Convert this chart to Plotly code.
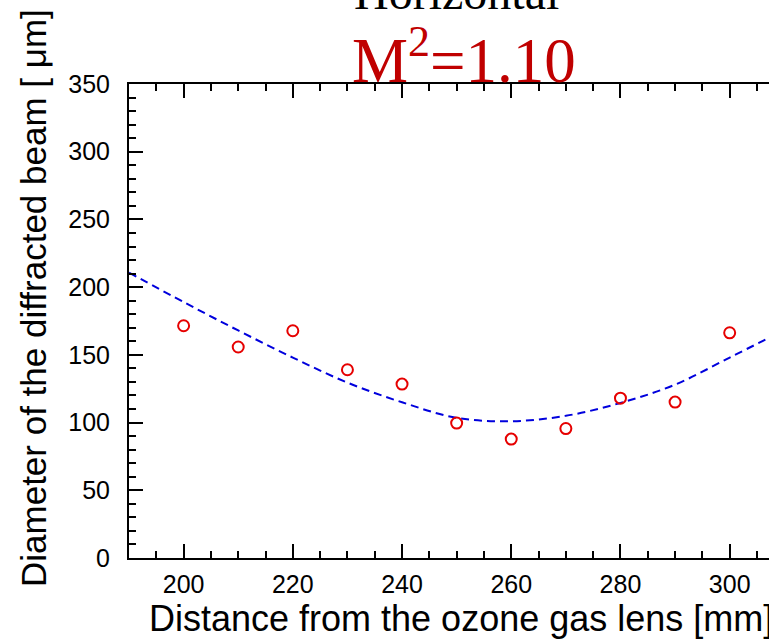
import plotly.graph_objects as go

# Measured data (diameter of diffracted beam, um)
distance_mm = [200, 210, 220, 230, 240, 250, 260, 270, 280, 290, 300]
diameter_um = [171.5, 155.8, 167.8, 139.0, 128.4, 99.6, 87.8, 95.6, 118.0, 115.1, 166.3]

# Fit curve values
fit_x = [190, 200, 210, 220, 230, 240, 250, 260, 270, 280, 290, 300, 307.2]
fit_y = [210.7, 189.0, 168.0, 148.0, 129.5, 115.0, 103.5, 101.0, 105.0, 114.5, 128.0, 148.0, 162.6]

x_ticks = [200, 220, 240, 260, 280, 300]
y_ticks = [0, 50, 100, 150, 200, 250, 300, 350]

W, H = 769, 639
L, R, T, B = 129, 0, 84, 81
PW, PH = W - L - R, H - T - B

def px(xp):
    return (xp - L) / PW

def py(yp):
    return (H - B - yp) / PH

fig = go.Figure()
fig.add_trace(go.Scatter(
    x=fit_x, y=fit_y, mode="lines",
    line=dict(color="#0000dd", width=2, dash="8px,5px", shape="spline"),
    showlegend=False, hoverinfo="skip"))
fig.add_trace(go.Scatter(
    x=distance_mm, y=diameter_um, mode="markers",
    marker=dict(symbol="circle-open", size=11, color="#e60000",
                line=dict(width=2, color="#e60000")),
    showlegend=False))

sans = "Liberation Sans, Arial, sans-serif"
serif = "Liberation Serif, Times New Roman, serif"

fig.update_layout(
    width=W, height=H, autosize=False,
    margin=dict(l=L, r=R, t=T, b=B, pad=0),
    paper_bgcolor="white", plot_bgcolor="white",
    xaxis=dict(range=[190, 307.2], tickvals=x_ticks, ticks="inside", ticklen=14,
               tickwidth=2, tickcolor="black", showline=True, linewidth=2,
               linecolor="black", mirror="ticks", showgrid=False, zeroline=False,
               ticklabelstandoff=3,
               tickfont=dict(family=sans, size=25, color="black"),
               minor=dict(dtick=5, tick0=0, ticks="inside", ticklen=7, tickwidth=2,
                          tickcolor="black", showgrid=False)),
    yaxis=dict(range=[0, 350], tickvals=y_ticks, ticks="inside", ticklen=14,
               tickwidth=2, tickcolor="black", showline=True, linewidth=2,
               linecolor="black", mirror=False, showgrid=False, zeroline=False,
               ticklabelstandoff=12,
               tickfont=dict(family=sans, size=25, color="black"),
               minor=dict(dtick=10, tick0=0, ticks="inside", ticklen=7, tickwidth=2,
                          tickcolor="black", showgrid=False)),
    annotations=[
        dict(text="Horizontal", xref="paper", yref="paper", x=px(352), y=py(21),
             xanchor="left", yanchor="bottom", showarrow=False,
             font=dict(family=serif, size=48, color="black")),
        dict(text="M<sup>2</sup>=1.10", xref="paper", yref="paper", x=px(350), y=py(98),
             xanchor="left", yanchor="bottom", showarrow=False,
             font=dict(family=serif, size=63, color="#c00000")),
        dict(text="Diameter of the diffracted beam [ μm]", xref="paper", yref="paper",
             x=px(33), y=py(298), xanchor="center", yanchor="middle", textangle=-90,
             showarrow=False, font=dict(family=sans, size=35, color="black")),
        dict(text="Distance from the ozone gas lens [mm]", xref="paper", yref="paper",
             x=px(147), y=py(641), xanchor="left", yanchor="bottom",
             showarrow=False, font=dict(family=sans, size=36, color="black")),
    ],
)

fig.write_html("out.html")
